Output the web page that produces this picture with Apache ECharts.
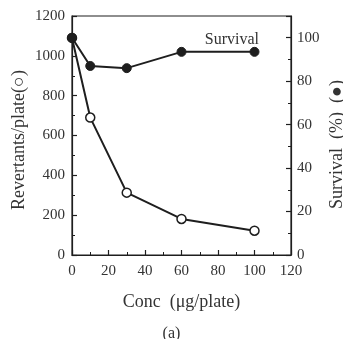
<!DOCTYPE html>
<html>
<head>
<meta charset="utf-8">
<script src="https://cdn.jsdelivr.net/npm/echarts@6/dist/echarts.min.js"></script>
<style>
  html, body { margin: 0; padding: 0; background: #fff; }
  #chart { width: 343px; height: 339px; }
</style>
</head>
<body>
<div id="chart"></div>
<script>
// concentration (ug/plate)
const conc = [0, 10, 30, 60, 100]
// revertants per plate (open circles, left axis)
const revertants = [1090, 690, 313, 181, 122]
// survival % (filled circles, right axis)
const survival = [100, 87, 86, 93.5, 93.5]

const FONT = 'Liberation Serif'
const INK = '#1e1e1e'

const chart = echarts.init(document.getElementById('chart'))

const axisCommon = {
  axisLine: { show: true, lineStyle: { color: INK, width: 1.2 } },
  axisTick: { show: true, inside: true, length: 5, lineStyle: { color: INK, width: 1.2 } },
  minorTick: { show: true, splitNumber: 2, length: 3, lineStyle: { color: INK, width: 1 } },
  splitLine: { show: false },
  axisLabel: { color: '#333', fontFamily: FONT, fontSize: 15, formatter: v => String(v) }
}
const nameStyle = { fontFamily: FONT, fontSize: 18, color: '#333' }

const option = {
  animation: false,
  grid: {
    left: 72, right: 52, top: 16, bottom: 84,
    outerBoundsMode: 'none',
    containLabel: false,
    show: true, borderColor: INK, borderWidth: 1.2, backgroundColor: 'transparent'
  },
  title: {
    text: '(a)',
    left: 'center',
    top: 321,
    textStyle: { fontFamily: FONT, fontSize: 16, fontWeight: 'normal', color: '#333' }
  },
  graphic: [{
    type: 'text',
    right: 84,
    top: 32,
    style: { text: 'Survival', fontFamily: FONT, fontSize: 16, fill: '#333' }
  }],
  xAxis: {
    type: 'value',
    min: 0, max: 120, interval: 20,
    name: 'Conc\u2002(\u03bcg/plate)',
    nameLocation: 'middle',
    nameGap: 38,
    nameMoveOverlap: false,
    nameTextStyle: nameStyle,
    ...axisCommon,
    axisLabel: { ...axisCommon.axisLabel, margin: 9 }
  },
  yAxis: [
    {
      type: 'value',
      position: 'left',
      min: 0, max: 1200, interval: 200,
      name: 'Revertants/plate(\u25cb)',
      nameLocation: 'middle',
      nameGap: 44,
      nameMoveOverlap: false,
      nameTextStyle: { ...nameStyle, padding: [0, 9, 0, 0] },
      ...axisCommon,
      axisLabel: { ...axisCommon.axisLabel, margin: 7 }
    },
    {
      type: 'value',
      position: 'right',
      min: 0, max: 110, interval: 20,
      name: 'Survival\u2002(%)\u2002(\u25cf)',
      nameLocation: 'middle',
      nameRotate: 90,
      nameGap: 37,
      nameMoveOverlap: false,
      nameTextStyle: { ...nameStyle, padding: [0, 18, 0, 0] },
      ...axisCommon,
      axisLabel: { ...axisCommon.axisLabel, margin: 6, showMaxLabel: false }
    }
  ],
  series: [
    {
      name: 'Revertants',
      type: 'line',
      yAxisIndex: 0,
      data: conc.map((c, i) => [c, revertants[i]]),
      symbol: 'circle',
      symbolSize: 9,
      lineStyle: { color: INK, width: 2 },
      itemStyle: { color: '#fff', borderColor: INK, borderWidth: 1.5 },
      z: 2
    },
    {
      name: 'Survival',
      type: 'line',
      yAxisIndex: 1,
      data: conc.map((c, i) => [c, survival[i]]),
      symbol: 'circle',
      symbolSize: 9,
      lineStyle: { color: INK, width: 2 },
      itemStyle: { color: INK, borderColor: INK, borderWidth: 1 },
      z: 3
    }
  ]
}

chart.setOption(option)
</script>
</body>
</html>
